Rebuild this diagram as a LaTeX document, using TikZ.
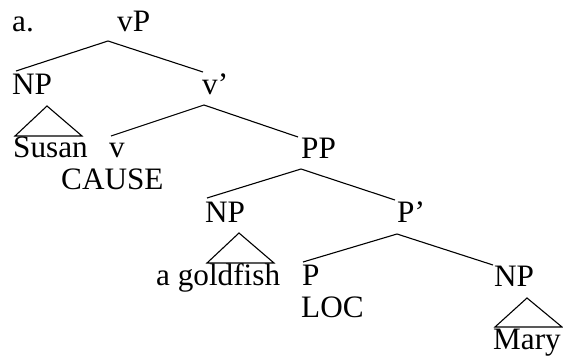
\documentclass[tikz,border=0pt]{standalone}
\usepackage{fontspec}
\setmainfont{Liberation Serif}
\begin{document}
\begin{tikzpicture}[x=1pt,y=-1pt,
  lbl/.style={anchor=base west,inner sep=0pt,font=\fontsize{31.2}{36}\selectfont},
  branch/.style={line width=1.1pt,line join=miter}]
\useasboundingbox (0,0) rectangle (563,356);
% labels
\node[lbl] (a) at (12,31) {a.};
\node[lbl] (vP) at (117,31) {vP};
\node[lbl] (NPa) at (12,94) {NP};
\node[lbl] (vbar) at (202,94) {v’};
\node[lbl] (susan) at (13,157) {Susan};
\node[lbl] (v) at (109,157) {v};
\node[lbl] (cause) at (61,189) {CAUSE};
\node[lbl] (PP) at (301,158) {PP};
\node[lbl] (NPb) at (205,222) {NP};
\node[lbl] (Pbar) at (397,222) {P’};
\node[lbl] (goldfish) at (156,285) {a goldfish};
\node[lbl] (P) at (302,285) {P};
\node[lbl] (loc) at (301,317) {LOC};
\node[lbl] (NPc) at (494,286) {NP};
\node[lbl] (mary) at (493,349) {Mary};
% branch points
\coordinate (vPt) at (108,41);
\coordinate (vPl) at (16,71);
\coordinate (vPr) at (203,72);
\coordinate (vbt) at (204,105);
\coordinate (vbl) at (111,136);
\coordinate (vbr) at (298,137);
\coordinate (n1t) at (47,106);
\coordinate (n1l) at (15,136);
\coordinate (n1r) at (82,136);
\coordinate (ppt) at (301,169);
\coordinate (ppl) at (207,198);
\coordinate (ppr) at (395,200);
\coordinate (n2t) at (239,233);
\coordinate (n2l) at (207,263);
\coordinate (n2r) at (274,263);
\coordinate (pbt) at (397,234);
\coordinate (pbl) at (303,262);
\coordinate (pbr) at (493,265);
\coordinate (n3t) at (527,298);
\coordinate (n3l) at (495,327);
\coordinate (n3r) at (562,327);
% branches
\draw[branch] (vPl) -- (vPt) -- (vPr);
\draw[branch] (vbl) -- (vbt) -- (vbr);
\draw[branch] (ppl) -- (ppt) -- (ppr);
\draw[branch] (pbl) -- (pbt) -- (pbr);
\draw[branch] (n1t) -- (n1l) -- (n1r) -- cycle;
\draw[branch] (n2t) -- (n2l) -- (n2r) -- cycle;
\draw[branch] (n3t) -- (n3l) -- (n3r) -- cycle;
\end{tikzpicture}
\end{document}
